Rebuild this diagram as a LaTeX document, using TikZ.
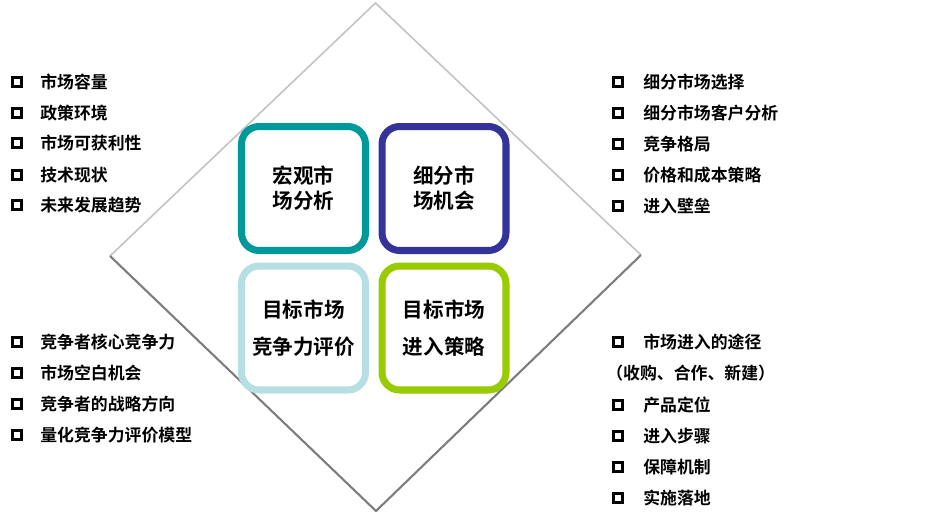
\documentclass[tikz,border=0pt]{standalone}
\usepackage{fontspec}
\setmainfont{Noto Sans CJK SC}[BoldFont={Noto Sans CJK SC Bold}]
\usetikzlibrary{positioning}
\definecolor{myteal}{RGB}{0,153,153}
\definecolor{mypurple}{RGB}{51,51,153}
\definecolor{mylightblue}{RGB}{183,222,227}
\definecolor{mygreen}{RGB}{153,204,0}
\definecolor{edgelight}{RGB}{195,195,195}
\definecolor{edgedark}{RGB}{125,125,125}

\begin{document}
\begin{tikzpicture}[x=0.02cm, y=-0.02cm,
    quad/.style={draw=#1, line width=4pt, rounded corners=10pt, fill=white,
      minimum width=2.48cm, minimum height=2.48cm, align=center,
      font=\fontsize{11.7}{14.2}\selectfont\bfseries},
    bullet/.style={draw, line width=1.8pt, minimum size=5pt, inner sep=0pt},
    item/.style={anchor=west, inner sep=0pt, font=\fontsize{9.6}{11}\selectfont\bfseries}]
  \useasboundingbox (0,0) rectangle (941,518);

  % Diamond
  \coordinate (top) at (375.5,3);
  \coordinate (right) at (641,255);
  \coordinate (bottom) at (376,511);
  \coordinate (left) at (110,256);
  \draw[edgelight, line width=0.9pt] (left) -- (top) -- (right);
  \draw[edgedark, line width=1.2pt] (right) -- (bottom) -- (left);

  % Four quadrants
  \node[quad=myteal] (macro) at (303.5,188.5) {宏观市\\场分析};
  \node[quad=mypurple] (segment) at (444,188.5) {细分市\\场机会};
  \node[quad=mylightblue] (compete) at (303.5,328) {目标市场\\[7pt]竞争力评价};
  \node[quad=mygreen] (entry) at (444,328) {目标市场\\[7pt]进入策略};

  % Upper left list
  \node[bullet] (ul1) at (17,82) {};  \node[item] (ult1) at (40,82) {市场容量};
  \node[bullet] (ul2) at (17,113) {}; \node[item] (ult2) at (40,113) {政策环境};
  \node[bullet] (ul3) at (17,143) {}; \node[item] (ult3) at (40,143) {市场可获利性};
  \node[bullet] (ul4) at (17,175) {}; \node[item] (ult4) at (40,175) {技术现状};
  \node[bullet] (ul5) at (17,205) {}; \node[item] (ult5) at (40,205) {未来发展趋势};

  % Upper right list
  \node[bullet] (ur1) at (618,82) {};  \node[item] (urt1) at (643,82) {细分市场选择};
  \node[bullet] (ur2) at (618,113) {}; \node[item] (urt2) at (643,113) {细分市场客户分析};
  \node[bullet] (ur3) at (618,144) {}; \node[item] (urt3) at (643,144) {竞争格局};
  \node[bullet] (ur4) at (618,175) {}; \node[item] (urt4) at (643,175) {价格和成本策略};
  \node[bullet] (ur5) at (618,206) {}; \node[item] (urt5) at (643,206) {进入壁垒};

  % Lower left list
  \node[bullet] (ll1) at (17,342) {}; \node[item] (llt1) at (40,342) {竞争者核心竞争力};
  \node[bullet] (ll2) at (17,373) {}; \node[item] (llt2) at (40,373) {市场空白机会};
  \node[bullet] (ll3) at (17,404) {}; \node[item] (llt3) at (40,404) {竞争者的战略方向};
  \node[bullet] (ll4) at (17,435) {}; \node[item] (llt4) at (40,435) {量化竞争力评价模型};

  % Lower right list
  \node[bullet] (lr1) at (618,342) {}; \node[item] (lrt1) at (643,342) {市场进入的途径};
  \node[item] (lrt2) at (606,373) {（收购、合作、新建）};
  \node[bullet] (lr3) at (618,405) {}; \node[item] (lrt3) at (643,405) {产品定位};
  \node[bullet] (lr4) at (618,436) {}; \node[item] (lrt4) at (643,436) {进入步骤};
  \node[bullet] (lr5) at (618,467) {}; \node[item] (lrt5) at (643,467) {保障机制};
  \node[bullet] (lr6) at (618,498) {}; \node[item] (lrt6) at (643,498) {实施落地};
\end{tikzpicture}
\end{document}
